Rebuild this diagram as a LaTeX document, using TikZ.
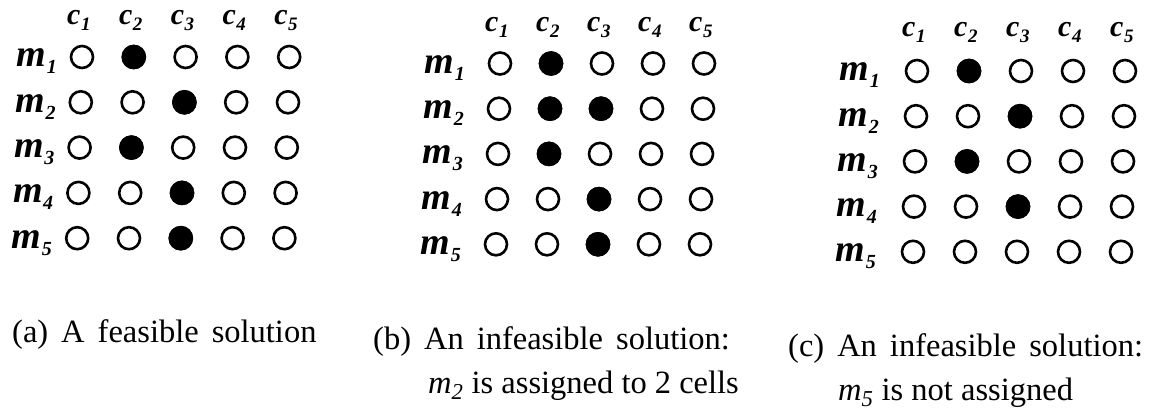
\documentclass[tikz,border=0pt]{standalone}
\usepackage{fontspec}
\setmainfont{Liberation Serif}
\newcommand\captfont{\fontsize{32.5}{40}\selectfont\spaceskip=0.4em\relax}
\newcommand\captfontb{\fontsize{32.5}{40}\selectfont}
\newcommand\mlab[1]{{\fontsize{38}{40}\selectfont\bfseries\itshape m\kern0.5pt\raisebox{-7pt}{\fontsize{20}{20}\selectfont #1}}}
\newcommand\clab[1]{{\fontsize{30}{32}\selectfont\bfseries\itshape c\kern0.5pt\raisebox{-6pt}{\fontsize{19}{19}\selectfont #1}}}
% #1 prefix, #2 x0, #3 y0, #4 dx, #5 dy, #6 skew per row, #7 label gap, #8 header baseline, #9 filled cells
\newcommand\matgrid[9]{%
  \foreach \ri in {1,...,5}{
    \foreach \ci in {1,...,5}{
      \node[cell] (#1-\ri-\ci) at ({#2+(\ci-1)*#4+(\ri-1)*#6},{#3+(\ri-1)*#5}) {};
    }
    \node[rowlab] (#1-m\ri) at ({#2+(\ri-1)*#6-#7},{#3+(\ri-1)*#5+10}) {\mlab{\ri}};
  }
  \foreach \ci in {1,...,5}
    \node[collab] (#1-c\ci) at ({#2+(\ci-1)*#4-15},#8) {\clab{\ci}};
  \foreach \ri/\ci in {#9}
    \fill (#1-\ri-\ci.center) circle[radius=12.3];
}
\begin{document}
\begin{tikzpicture}[x=1pt,y=-1pt,
  cell/.style={circle,draw,line width=2.6pt,minimum size=22pt,inner sep=0pt},
  rowlab/.style={anchor=base east,inner sep=0pt},
  collab/.style={anchor=base west,inner sep=0pt},
  capt/.style={anchor=base west,inner sep=0pt,font=\captfont},
  captb/.style={anchor=base west,inner sep=0pt,font=\captfontb}]
\useasboundingbox (0,0) rectangle (1154,409);
\matgrid{a}{82}{57}{51.8}{45.3}{-1.2}{25}{25}{1/2,2/3,3/2,4/3,5/3}
\matgrid{b}{500}{63.5}{51}{45.2}{-1}{35}{32}{1/2,2/2,2/3,3/2,4/3,5/3}
\matgrid{c}{917}{71}{52}{45.2}{-1}{37}{37}{1/2,2/3,3/2,4/3}
\node[capt] (capa) at (12,342) {(a) A feasible solution};
\node[capt] (capb1) at (373,349) {(b) An infeasible solution:};
\node[captb] (capb2) at (428,393) {\textit{m}\textsubscript{\textit{2}} is assigned to 2 cells};
\node[capt] (capc1) at (788,356) {(c) An infeasible solution:};
\node[captb] (capc2) at (838,400) {\textit{m}\textsubscript{\textit{5}} is not assigned};
\end{tikzpicture}
\end{document}
